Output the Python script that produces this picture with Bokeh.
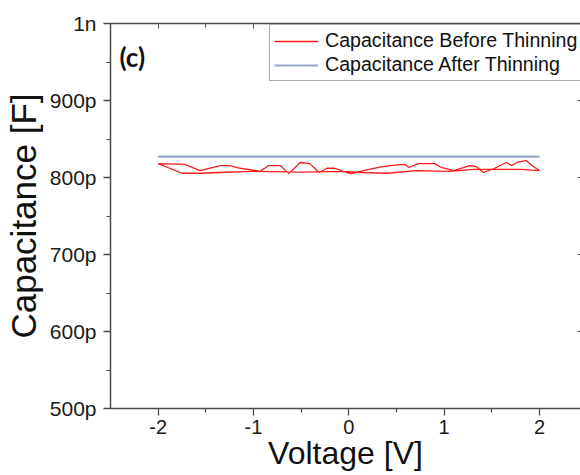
from bokeh.plotting import figure
from bokeh.models import (Range1d, FixedTicker, LinearAxis, Legend, LegendItem, Label)
from bokeh.embed import file_html
from bokeh.resources import INLINE

# ---- data (voltage in V, capacitance in pF) ----
v_before_fwd = [-2.00, -1.72, -1.56, -1.35, -1.25, -1.14, -1.02, -0.93, -0.84, -0.72,
                -0.63, -0.51, -0.41, -0.31, -0.23, -0.15, -0.02, 0.03, 0.19, 0.35,
                0.48, 0.59, 0.63, 0.73, 0.82, 0.90, 0.97, 1.10, 1.27, 1.34,
                1.41, 1.53, 1.65, 1.71, 1.76, 1.86, 1.92, 2.00]
c_before_fwd = [818, 817, 809, 815.5, 815.5, 812, 810, 808, 815.5, 815.5,
                805, 819.5, 818, 806.5, 812, 812, 806.5, 805, 810, 814,
                816, 817, 813, 818, 818, 818, 813, 809, 815.5, 814,
                806.5, 812, 819.5, 815.5, 819.5, 822, 815.5, 809]
v_before_rev = [2.00, 1.80, 1.50, 1.30, 1.06, 0.71, 0.40, 0.14, -0.07, -0.49,
                -1.02, -1.36, -1.56, -1.75, -2.00]
c_before_rev = [809, 810.5, 810.5, 810.5, 808, 809, 805.5, 806.5, 808, 807,
                808, 806.5, 805.5, 805.5, 818]
v_after = [-2.0, -1.0, 0.0, 1.0, 2.0]
c_after = [827, 827, 827, 827, 827]

x_ticks = [-2, -1, 0, 1, 2]
x_minor = [-1.5, -0.5, 0.5, 1.5]
x_tick_labels = ["-2", "-1", "0", "1", "2"]
y_ticks = [500, 600, 700, 800, 900, 1000]
y_minor = [550, 650, 750, 850, 950]
y_tick_labels = ["500p", "600p", "700p", "800p", "900p", "1n"]

series_names = ["Capacitance Before Thinning", "Capacitance After Thinning"]
x_title = "Voltage [V]"
y_title = "Capacitance [F]"
panel_tag = "(c)"

FONT = "Liberation Sans"
AX = "#4a4a4a"

p = figure(width=580, height=475, output_backend="svg", toolbar_location=None,
           x_range=Range1d(-2.5, 2.43), y_range=Range1d(500, 1000),
           min_border_left=108, min_border_top=23, min_border_right=0, min_border_bottom=67)
p.outline_line_color = None
p.xgrid.visible = False
p.ygrid.visible = False
p.background_fill_color = "white"
p.border_fill_color = "white"

r_before = p.line(v_before_fwd + v_before_rev, c_before_fwd + c_before_rev,
                  line_color="#ff1a1a", line_width=1.3)
r_after = p.line(v_after, c_after, line_color="#94aac8", line_width=2.2)

# bottom axis
xa = p.xaxis[0]
xa.ticker = FixedTicker(ticks=x_ticks, minor_ticks=x_minor)
xa.major_label_overrides = {t: s for t, s in zip(x_ticks, x_tick_labels)}
# left axis
ya = p.yaxis[0]
ya.ticker = FixedTicker(ticks=y_ticks, minor_ticks=y_minor)
ya.major_label_overrides = {t: s for t, s in zip(y_ticks, y_tick_labels)}

for ax in (xa, ya):
    ax.axis_line_color = AX
    ax.axis_line_width = 1.5
    ax.major_tick_line_color = AX
    ax.minor_tick_line_color = AX
    ax.major_tick_line_width = 1.3
    ax.minor_tick_line_width = 1.2
    ax.major_tick_out = 7
    ax.major_tick_in = 0
    ax.minor_tick_out = 4
    ax.minor_tick_in = 0
    ax.major_label_text_font = FONT
    ax.major_label_text_color = "#1a1a1a"
    ax.axis_label_text_font = FONT
    ax.axis_label_text_font_style = "normal"
    ax.axis_label_text_color = "#111111"

xa.axis_label = x_title
xa.major_label_text_font_size = "20px"
xa.major_label_standoff = 4
xa.axis_label_text_font_size = "32px"
xa.axis_label_standoff = -2

ya.axis_label = y_title
ya.major_label_text_font_size = "21px"
ya.major_label_standoff = 7
ya.axis_label_text_font_size = "35px"
ya.axis_label_standoff = 4

# top axis (ticks inward, no labels)
top = LinearAxis(ticker=FixedTicker(ticks=x_ticks, minor_ticks=x_minor),
                 major_label_text_font_size="1px", major_label_text_color=None,
                 major_label_standoff=0,
                 axis_line_color=AX, axis_line_width=1.5,
                 major_tick_in=5, major_tick_out=0, minor_tick_in=4, minor_tick_out=0,
                 major_tick_line_color=AX, minor_tick_line_color=AX)
p.add_layout(top, "above")

# right axis (ticks only, inward)
right = LinearAxis(ticker=FixedTicker(ticks=y_ticks, minor_ticks=[]),
                   major_label_text_font_size="1px", major_label_text_color=None,
                   major_label_standoff=0,
                   axis_line_color=None, major_tick_in=3, major_tick_out=0,
                   minor_tick_in=0, minor_tick_out=0,
                   major_tick_line_color=AX)
p.add_layout(right, "right")

legend = Legend(items=[LegendItem(label=series_names[0], renderers=[r_before]),
                       LegendItem(label=series_names[1], renderers=[r_after])],
                location=(159, 327), orientation="vertical")
legend.label_text_font = FONT
legend.label_text_font_size = "19.6px"
legend.label_text_color = "#111111"
legend.glyph_width = 44
legend.glyph_height = 20
legend.label_height = 20
legend.label_standoff = 7
legend.spacing = 1
legend.padding = 4
legend.margin = 0
legend.border_line_color = "#555555"
legend.border_line_width = 1.5
legend.background_fill_color = "white"
legend.background_fill_alpha = 1.0
p.add_layout(legend, "center")

tag = Label(x=9, y=352, x_units="screen", y_units="screen", text=panel_tag,
            text_font="Lato", text_font_style="bold", text_font_size="26px",
            text_color="#111111", text_baseline="alphabetic", text_align="left")
p.add_layout(tag)

open("out.html", "w").write(file_html(p, INLINE))
